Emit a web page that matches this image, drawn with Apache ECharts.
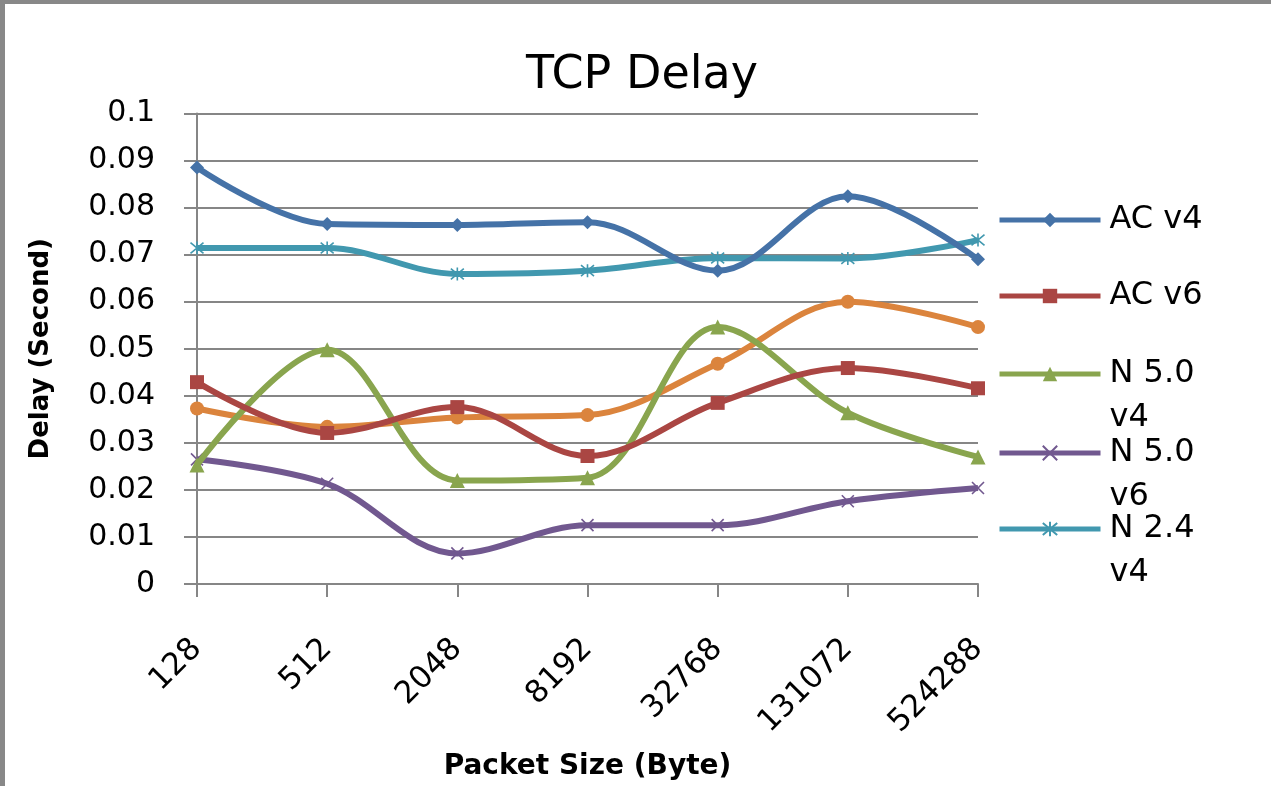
<!DOCTYPE html>
<html>
<head>
<meta charset="utf-8">
<script src="https://cdn.jsdelivr.net/npm/echarts@6/dist/echarts.min.js"></script>
<style>
html,body{margin:0;padding:0;background:#fff;}
#chart{position:absolute;left:0;top:0;width:1271px;height:786px;}
#frame{position:absolute;left:0;top:0;width:1271px;height:786px;box-sizing:border-box;border-top:4px solid #888;border-left:5px solid #888;pointer-events:none;}
</style>
</head>
<body>
<div id="chart"></div>
<div id="frame"></div>
<script>
const categories = ['128','512','2048','8192','32768','131072','524288'];
const acV4   = [0.0885, 0.0765, 0.0763, 0.0769, 0.0666, 0.0824, 0.0690];
const acV6   = [0.0429, 0.0321, 0.0376, 0.0272, 0.0385, 0.0459, 0.0416];
const n50V4  = [0.0253, 0.0498, 0.0220, 0.0226, 0.0546, 0.0364, 0.0270];
const n50V6  = [0.0265, 0.0213, 0.0065, 0.0125, 0.0125, 0.0176, 0.0204];
const n24V4  = [0.0714, 0.0714, 0.0659, 0.0666, 0.0693, 0.0692, 0.0731];
const n24V6  = [0.0373, 0.0334, 0.0354, 0.0359, 0.0468, 0.0600, 0.0546];
const seriesNames = ['AC v4','AC v6','N 5.0 v4','N 5.0 v6','N 2.4 v4','N 2.4 v6'];

const FONT = 'DejaVu Sans';
const chart = echarts.init(document.getElementById('chart'));

function mkSeries(name, data, color, symbol, size, z) {
  return {
    name: name, type: 'line', data: data, smooth: 0.35,
    symbol: symbol, symbolSize: size, showSymbol: true,
    color: color,
    lineStyle: {color: color, width: 6},
    itemStyle: {color: color, borderColor: color, borderWidth: (symbol.indexOf('path://') === 0) ? 1.6 : 0},
    emphasis: {disabled: true},
    z: z
  };
}

const xPath = 'path://M0,0L10,10M10,0L0,10';
const starPath = 'path://M0,0L10,10M10,0L0,10M5,-1L5,11';

function legendAt(name, top, multi) {
  return {
    data: [name], left: 997, top: top, orient: 'vertical', padding: 0,
    itemWidth: 101, itemHeight: 18,
    lineStyle: {width: 5},
    formatter: multi ? function(n){ const i = n.lastIndexOf(' '); return '\n' + n.slice(0,i) + '\n' + n.slice(i+1); } : '{name}',
    textStyle: {fontFamily: FONT, fontSize: 32, color: '#000', lineHeight: 44, padding: [0,0,0,4]},
    selectedMode: false
  };
}

chart.setOption({
  backgroundColor: '#fff',
  animation: false,
  title: {
    text: 'TCP Delay', left: 637, top: 48, textAlign: 'center',
    textStyle: {fontFamily: FONT, fontSize: 46, fontWeight: 'normal', color: '#000', lineHeight: 46}
  },
  legend: [
    legendAt(seriesNames[0], 198, false),
    legendAt(seriesNames[1], 274, false),
    legendAt(seriesNames[2], 308, true),
    legendAt(seriesNames[3], 387, true),
    legendAt(seriesNames[4], 463, true)
  ],
  grid: {left: 197, right: 293, top: 113.5, bottom: 193, containLabel: false},
  xAxis: {
    type: 'category', data: categories, boundaryGap: false,
    name: 'Packet Size (Byte)', nameLocation: 'middle', nameGap: 169,
    nameTextStyle: {fontFamily: FONT, fontSize: 28, fontWeight: 'bold', color: '#000'},
    axisLine: {lineStyle: {color: '#868686', width: 2}},
    axisTick: {show: true, length: 13, lineStyle: {color: '#868686', width: 2}},
    axisLabel: {rotate: 45, margin: 60, fontFamily: FONT, fontSize: 31, color: '#000', interval: 0},
    splitLine: {show: false}
  },
  yAxis: {
    type: 'value', min: 0, max: 0.1, interval: 0.01,
    name: 'Delay (Second)', nameLocation: 'middle', nameGap: 143,
    nameTextStyle: {fontFamily: FONT, fontSize: 26, fontWeight: 'bold', color: '#000'},
    axisLine: {show: true, lineStyle: {color: '#868686', width: 2}},
    axisTick: {show: true, length: 13, lineStyle: {color: '#868686', width: 2}},
    axisLabel: {margin: 42, fontFamily: FONT, fontSize: 30, color: '#000'},
    splitLine: {show: true, lineStyle: {color: '#868686', width: 2}}
  },
  series: [
    mkSeries(seriesNames[0], acV4, '#4572A7', 'diamond', 14, 6),
    mkSeries(seriesNames[1], acV6, '#AA4643', 'rect', 14, 5),
    mkSeries(seriesNames[2], n50V4, '#89A54E', 'triangle', 15, 4),
    mkSeries(seriesNames[3], n50V6, '#71588F', xPath, 12, 3),
    mkSeries(seriesNames[4], n24V4, '#4198AF', starPath, 13, 2),
    mkSeries(seriesNames[5], n24V6, '#DB843D', 'circle', 14, 1)
  ]
});
</script>
</body>
</html>
